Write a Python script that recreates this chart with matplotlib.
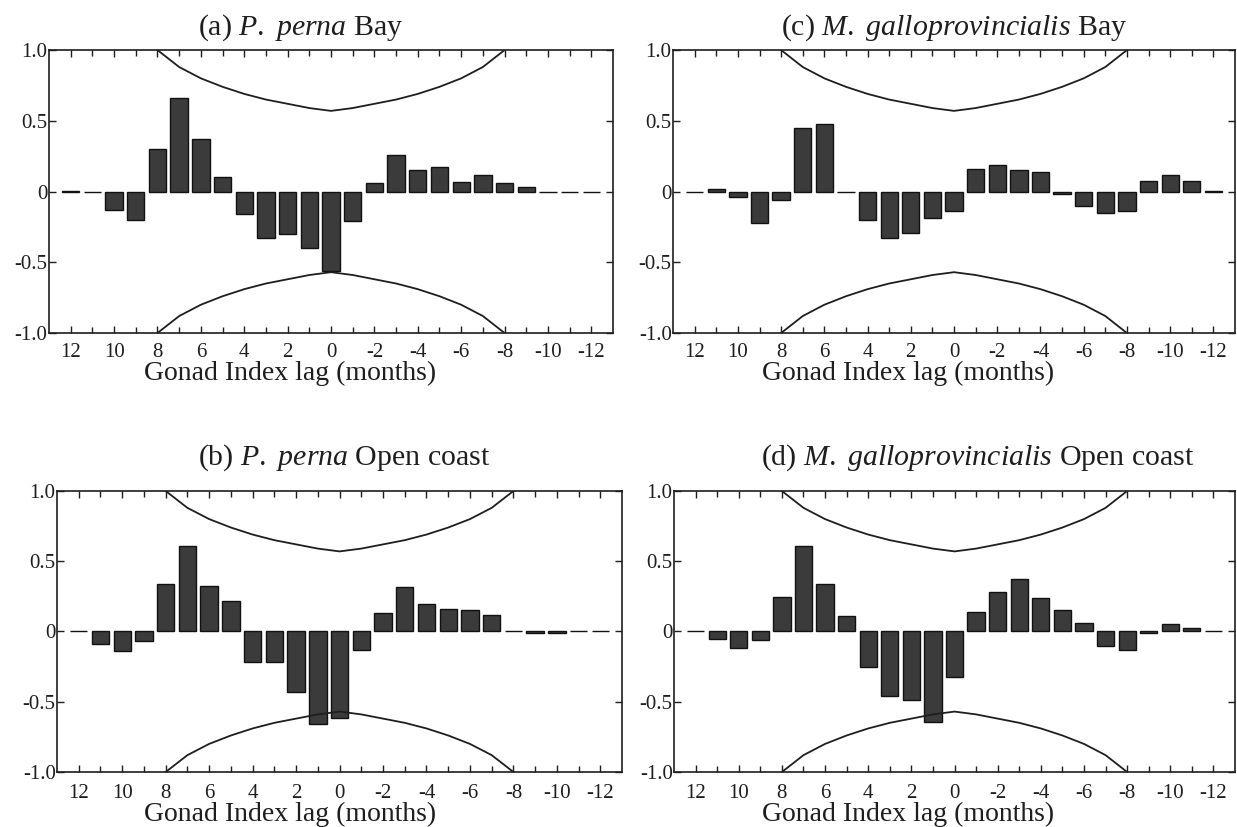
import numpy as np
import matplotlib
matplotlib.use("Agg")
import matplotlib.pyplot as plt

plt.rcParams['font.family'] = 'Liberation Serif'
plt.rcParams['mathtext.fontset'] = 'custom'
plt.rcParams['mathtext.rm'] = 'Liberation Serif'
plt.rcParams['mathtext.it'] = 'Liberation Serif:italic'
plt.rcParams['axes.unicode_minus'] = False

# Cross-correlation of gonad index with lag (months), 12 .. -12
lags = list(range(12, -13, -1))

perna_bay = [0.005, -0.005, -0.13, -0.20, 0.30, 0.66, 0.37, 0.10, -0.16, -0.33,
             -0.30, -0.40, -0.56, -0.21, 0.06, 0.26, 0.15, 0.17, 0.07, 0.12,
             0.06, 0.03, -0.005, -0.005, 0.0]
perna_open = [0.0, -0.09, -0.14, -0.07, 0.34, 0.61, 0.325, 0.215, -0.215, -0.22,
              -0.43, -0.66, -0.615, -0.13, 0.135, 0.32, 0.195, 0.16, 0.15, 0.12,
              0.005, -0.01, -0.01, 0.0, 0.0]
gallo_bay = [0.0, 0.02, -0.04, -0.22, -0.06, 0.45, 0.48, -0.005, -0.20, -0.33,
             -0.29, -0.19, -0.14, 0.16, 0.19, 0.155, 0.135, -0.015, -0.10, -0.15,
             -0.135, 0.075, 0.115, 0.075, 0.005]
gallo_open = [0.0, -0.05, -0.12, -0.06, 0.245, 0.61, 0.335, 0.11, -0.255, -0.46,
              -0.49, -0.645, -0.325, 0.14, 0.28, 0.375, 0.235, 0.15, 0.06, -0.10,
              -0.13, -0.01, 0.055, 0.023, 0.005]

# 95% confidence limits for lags 0..8 (symmetric about lag 0)
limit_lags = [0, 1, 2, 3, 4, 5, 6, 7, 8]
limit_vals = [0.57, 0.59, 0.62, 0.65, 0.69, 0.74, 0.80, 0.88, 1.0]

xtick_vals = [12, 10, 8, 6, 4, 2, 0, -2, -4, -6, -8, -10, -12]
ytick_vals = [1.0, 0.5, 0, -0.5, -1.0]
ytick_labels = ['1.0', '0.5', '0', '-0.5', '-1.0']

titles = [r'(a) $\mathit{P.}$ $\mathit{perna}$ Bay',
          r'(c) $\mathit{M.}$ $\mathit{galloprovincialis}$ Bay',
          r'(b) $\mathit{P.}$ $\mathit{perna}$ Open coast',
          r'(d) $\mathit{M.}$ $\mathit{galloprovincialis}$ Open coast']
series = [perna_bay, gallo_bay, perna_open, gallo_open]

# axes rect, title (x, y), xlabel (x, y), x tick label pad
layout = [
    ([0.0396, 0.5973, 0.456, 0.3422], (0.447, 1.078), (0.427, -0.141), 7),
    ([0.5441, 0.5973, 0.4543, 0.3422], (0.500, 1.078), (0.418, -0.141), 7),
    ([0.0461, 0.0665, 0.4568, 0.3398], (0.509, 1.117), (0.412, -0.152), 8.5),
    ([0.5449, 0.0665, 0.4535, 0.3398], (0.541, 1.117), (0.417, -0.152), 8.5),
]

ink = '#1e1e1e'

fig = plt.figure(figsize=(12.37, 8.27), dpi=100)

for vals, title, (rect, tpos, lpos, tpad) in zip(series, titles, layout):
    ax = fig.add_axes(rect)
    ax.bar(lags, vals, width=0.8, color='#3b3b3b', edgecolor='#111111', linewidth=1.0)

    # confidence envelope, mirrored to negative lags
    cl_x = [-l for l in limit_lags[::-1]] + limit_lags[1:]
    cl_y = limit_vals[::-1] + limit_vals[1:]
    ax.plot(cl_x, cl_y, color=ink, linewidth=1.3)
    ax.plot(cl_x, [-v for v in cl_y], color=ink, linewidth=1.3)

    ax.set_xlim(13, -13)
    ax.set_ylim(-1.0, 1.0)
    ax.set_xticks(xtick_vals)
    ax.set_xticklabels([str(v) for v in xtick_vals])
    ax.set_xticks(lags, minor=True)
    ax.set_yticks(ytick_vals)
    ax.set_yticklabels(ytick_labels)
    ax.tick_params(axis='both', which='both', direction='in', top=True, right=True,
                   labelsize=15, colors=ink, width=1.0)
    ax.tick_params(axis='x', which='major', length=5, pad=tpad)
    ax.tick_params(axis='x', which='minor', length=4)
    ax.tick_params(axis='y', length=5, pad=1)
    for s in ax.spines.values():
        s.set_linewidth(1.2)
        s.set_color(ink)

    ax.set_xlabel('Gonad Index lag (months)', fontsize=20, color=ink)
    ax.xaxis.label.set_va('center')
    ax.xaxis.set_label_coords(*lpos)
    ax.text(tpos[0], tpos[1], title, transform=ax.transAxes, ha='center', va='center',
            fontsize=21.5, color=ink)

fig.savefig('out.png', dpi=100)
